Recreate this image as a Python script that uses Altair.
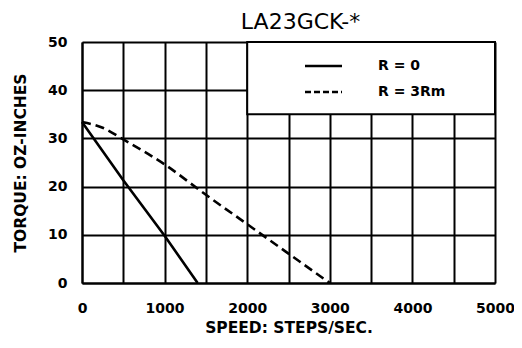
import altair as alt
import pandas as pd

# Data
solid_speed = [0, 500, 1000, 1400]
solid_torque = [33.4, 21.3, 9.8, 0]

dashed_speed = [0, 250, 500, 1000, 1500, 2000, 2500, 3000]
dashed_torque = [33.4, 32.2, 29.8, 24.6, 18.3, 12.2, 6.1, 0]

legend_labels = ["R = 0", "R = 3Rm"]
title_text = "LA23GCK-*"
x_title = "SPEED:  STEPS/SEC."
y_title = "TORQUE:  OZ-INCHES"

x_grid = list(range(0, 5001, 500))
y_grid = list(range(0, 51, 5))

df_solid = pd.DataFrame({"speed": solid_speed, "torque": solid_torque})
df_dash = pd.DataFrame({"speed": dashed_speed, "torque": dashed_torque})
df_box = pd.DataFrame({"x": [2000], "x2": [5000], "y": [35], "y2": [50]})

FONT = "DejaVu Sans"
W, H = 413, 241

xscale = alt.Scale(domain=[0, 5000], nice=False, zero=True)
yscale = alt.Scale(domain=[0, 50], nice=False, zero=True)

common = dict(
    ticks=False,
    labelFontWeight="bold",
    titleFontWeight="bold",
    labelFont=FONT,
    titleFont=FONT,
    labelColor="black",
    titleColor="black",
    grid=True,
    gridColor="black",
    gridWidth=2,
    gridOpacity=1,
    domainColor="black",
    domainWidth=2,
    labelFlush=False,
    labelOverlap=False,
    format="d",
)

xaxis = alt.Axis(
    values=x_grid,
    labelExpr="datum.value % 1000 === 0 ? datum.label : ''",
    title=x_title,
    labelPadding=18,
    labelFontSize=14,
    titleFontSize=15.5,
    titleX=W / 2,
    titleY=44,
    titleBaseline="middle",
    titleAlign="center",
    **common,
)
yaxis = alt.Axis(
    values=y_grid,
    labelExpr="datum.value % 10 === 0 ? datum.label : ''",
    title=y_title,
    labelPadding=15,
    labelFontSize=14,
    titleFontSize=15.5,
    titleX=-62,
    titleY=H / 2,
    titleBaseline="middle",
    titleAlign="center",
    titleAngle=270,
    **common,
)

base_box = alt.Chart(df_box).mark_rect(
    fill="white", stroke="black", strokeWidth=2
).encode(
    x=alt.X("x:Q", scale=xscale, axis=xaxis),
    x2="x2:Q",
    y=alt.Y("y:Q", scale=yscale, axis=yaxis),
    y2="y2:Q",
)

solid = alt.Chart(df_solid).mark_line(
    color="black", strokeWidth=2.6
).encode(
    x=alt.X("speed:Q", scale=xscale),
    y=alt.Y("torque:Q", scale=yscale),
)

dashed = alt.Chart(df_dash).mark_line(
    color="black", strokeWidth=2.6, strokeDash=[9, 5], interpolate="monotone"
).encode(
    x=alt.X("speed:Q", scale=xscale),
    y=alt.Y("torque:Q", scale=yscale),
)

leg_solid = alt.Chart(pd.DataFrame({"k": [0]})).mark_rule(
    color="black", strokeWidth=2.6
).encode(x=alt.value(223), x2=alt.value(260), y=alt.value(24))

leg_dash = alt.Chart(pd.DataFrame({"k": [0]})).mark_rule(
    color="black", strokeWidth=2.6, strokeDash=[6, 3]
).encode(x=alt.value(223), x2=alt.value(260), y=alt.value(50))

leg_t1 = alt.Chart(pd.DataFrame({"t": [legend_labels[0]]})).mark_text(
    align="left", baseline="middle", font=FONT, fontSize=14, fontWeight="bold", color="black"
).encode(x=alt.value(296), y=alt.value(24), text="t:N")

leg_t2 = alt.Chart(pd.DataFrame({"t": [legend_labels[1]]})).mark_text(
    align="left", baseline="middle", font=FONT, fontSize=14, fontWeight="bold", color="black"
).encode(x=alt.value(296), y=alt.value(50), text="t:N")

chart = alt.layer(
    base_box, solid, dashed, leg_solid, leg_dash, leg_t1, leg_t2
).properties(
    width=W,
    height=H,
    title=alt.TitleParams(
        text=title_text, font=FONT, fontSize=22, fontWeight="normal",
        color="black", offset=1, anchor="middle", dx=12,
    ),
    autosize=alt.AutoSizeParams(type="none"),
    padding={"left": 74, "top": 34, "right": 19, "bottom": 56},
).configure_view(
    stroke="black", strokeWidth=2
).configure(background="white")

chart.save("out.html", embed_options={"renderer": "svg", "actions": False})
